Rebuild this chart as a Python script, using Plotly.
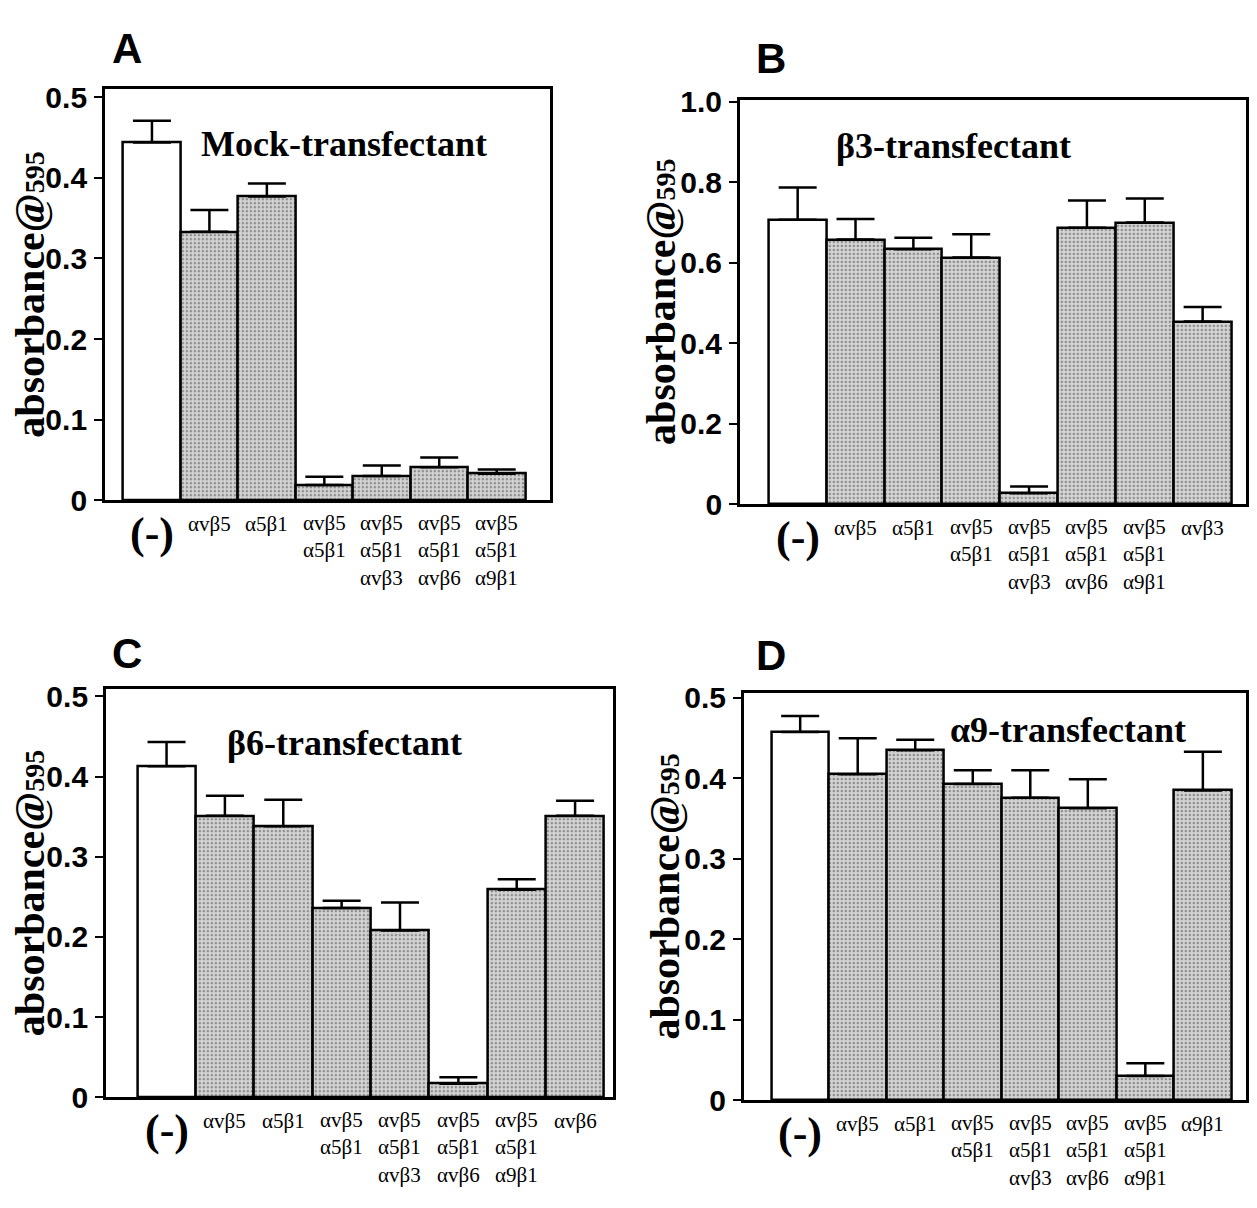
import plotly.graph_objects as go

PAGE_W, PAGE_H = 1257, 1208
OFF = 8                      # default body margin of the html page
FW, FH = PAGE_W - 2 * OFF, PAGE_H - 2 * OFF   # figure fits exactly inside the window

# ---------------- data ----------------
cats_A = ["(-)", "αvβ5", "α5β1", "αvβ5<br>α5β1", "αvβ5<br>α5β1<br>αvβ3",
          "αvβ5<br>α5β1<br>αvβ6", "αvβ5<br>α5β1<br>α9β1"]
vals_A = [0.444, 0.333, 0.377, 0.019, 0.030, 0.041, 0.033]
errs_A = [0.027, 0.027, 0.016, 0.010, 0.013, 0.012, 0.005]

cats_B = ["(-)", "αvβ5", "α5β1", "αvβ5<br>α5β1", "αvβ5<br>α5β1<br>αvβ3",
          "αvβ5<br>α5β1<br>αvβ6", "αvβ5<br>α5β1<br>α9β1", "αvβ3"]
vals_B = [0.707, 0.658, 0.634, 0.613, 0.027, 0.687, 0.700, 0.454]
errs_B = [0.080, 0.051, 0.028, 0.058, 0.017, 0.068, 0.060, 0.036]

cats_C = ["(-)", "αvβ5", "α5β1", "αvβ5<br>α5β1", "αvβ5<br>α5β1<br>αvβ3",
          "αvβ5<br>α5β1<br>αvβ6", "αvβ5<br>α5β1<br>α9β1", "αvβ6"]
vals_C = [0.413, 0.351, 0.338, 0.236, 0.208, 0.017, 0.259, 0.351]
errs_C = [0.030, 0.025, 0.033, 0.009, 0.035, 0.008, 0.013, 0.019]

cats_D = ["(-)", "αvβ5", "α5β1", "αvβ5<br>α5β1", "αvβ5<br>α5β1<br>αvβ3",
          "αvβ5<br>α5β1<br>αvβ6", "αvβ5<br>α5β1<br>α9β1", "α9β1"]
vals_D = [0.4575, 0.405, 0.435, 0.393, 0.376, 0.363, 0.030, 0.385]
errs_D = [0.020, 0.045, 0.013, 0.017, 0.034, 0.036, 0.016, 0.048]

ticks_small = [0, 0.1, 0.2, 0.3, 0.4, 0.5]
ticktext_small = ["0", "0.1", "0.2", "0.3", "0.4", "0.5"]
ticks_big = [0, 0.2, 0.4, 0.6, 0.8, 1.0]
ticktext_big = ["0", "0.2", "0.4", "0.6", "0.8", "1.0"]

panel_letters = ["A", "B", "C", "D"]
panel_titles = ["Mock-transfectant", "β3-transfectant", "β6-transfectant", "α9-transfectant"]
ytitle = "absorbance@<span style='font-size:28px'>595</span>"

# ---------------- layout geometry (page pixels) ----------------
frames = [  # x0, x1, ytop, ybottom
    (105, 551, 77, 499),
    (741, 1248, 88, 503),
    (106, 614, 693, 1112),
    (745, 1248, 697, 1115),
]
xranges = [[-0.82, 6.93], [-1.0, 7.75], [-1.04, 7.65], [-0.98, 7.75]]
yranges = [[0, 0.51], [0, 1.005], [0, 0.509], [0, 0.506]]
letter_pos = [(127, 35), (772, 45), (127, 656), (772, 658)]
title_pos = [(345, 133), (955, 135), (345, 748), (1070, 735)]
ytitle_x = [30, 662, 30, 666]
first_row_dy = 24       # first label row below frame bottom
cat_size = 21
line_h = 1.3 * cat_size
paren_dy = 34

def px(x):
    return (x - OFF) / FW

def py(y):
    return 1 - (y - OFF) / FH

datasets = [(cats_A, vals_A, errs_A), (cats_B, vals_B, errs_B),
            (cats_C, vals_C, errs_C), (cats_D, vals_D, errs_D)]

tick_font = dict(family="Liberation Sans, Arial, sans-serif",
                 size=30, color="black", weight="bold")
cat_font = dict(family="Liberation Serif, Times New Roman, serif", size=cat_size, color="black")

fig = go.Figure()
annotations = []
for i, (cats, vals, errs) in enumerate(datasets):
    n = len(vals)
    ax = "" if i == 0 else str(i + 1)
    colors = ["white"] + ["#d4d4d4"] * (n - 1)
    shapes = [""] + ["."] * (n - 1)
    fig.add_trace(go.Bar(
        x=list(range(n)), y=vals,
        xaxis="x" + ax, yaxis="y" + ax,
        marker=dict(color=colors,
                    line=dict(color="black", width=2.5),
                    pattern=dict(shape=shapes, fillmode="overlay",
                                 fgcolor="#8c8c8c", size=4, solidity=0.3)),
        width=1.0,
        error_y=dict(type="data", symmetric=False, array=errs,
                     arrayminus=[0] * n, color="black", thickness=2.5, width=19),
        showlegend=False,
    ))
    x0, x1, yt, yb = frames[i]
    big = (i == 1)
    fig.update_layout(**{
        "xaxis" + ax: dict(domain=[px(x0), px(x1)], range=xranges[i],
                           anchor="y" + ax, showline=True, linecolor="black",
                           linewidth=2.5, mirror=True, ticks="",
                           showticklabels=False, showgrid=False, zeroline=False,
                           fixedrange=True),
        "yaxis" + ax: dict(domain=[py(yb), py(yt)], range=yranges[i],
                           anchor="x" + ax, showline=True, linecolor="black",
                           linewidth=2.5, mirror=True, ticks="outside", ticklen=8,
                           tickwidth=2, tickcolor="black", ticklabelstandoff=1,
                           tickmode="array",
                           tickvals=ticks_big if big else ticks_small,
                           ticktext=ticktext_big if big else ticktext_small,
                           tickfont=tick_font, showgrid=False, zeroline=False,
                           fixedrange=True),
    })
    # category labels placed on the x axis scale
    for k, c in enumerate(cats):
        if c == "(-)":
            annotations.append(dict(x=k, xref="x" + ax, y=py(yb + paren_dy), yref="paper",
                                    text="<b>(-)</b>", showarrow=False,
                                    font=dict(family="Liberation Serif, serif", size=44,
                                              color="black"),
                                    xanchor="center", yanchor="middle"))
            continue
        nl = c.count("<br>") + 1
        yc = yb + first_row_dy + (nl - 1) * line_h / 2
        annotations.append(dict(x=k, xref="x" + ax, y=py(yc), yref="paper",
                                text=c, showarrow=False, font=cat_font,
                                xanchor="center", yanchor="middle"))
    lx, ly = letter_pos[i]
    annotations.append(dict(x=px(lx), y=py(ly), xref="paper", yref="paper",
                            text="<b>%s</b>" % panel_letters[i], showarrow=False,
                            font=dict(family="Liberation Sans, Arial, sans-serif",
                                      size=42, color="black"),
                            xanchor="center", yanchor="middle"))
    tx, ty = title_pos[i]
    annotations.append(dict(x=px(tx), y=py(ty), xref="paper", yref="paper",
                            text="<b>%s</b>" % panel_titles[i], showarrow=False,
                            font=dict(family="Liberation Serif, Times New Roman, serif",
                                      size=36, color="black"),
                            xanchor="center", yanchor="middle"))
    annotations.append(dict(x=px(ytitle_x[i]), y=py((yt + yb) / 2), xref="paper", yref="paper",
                            text="<b>%s</b>" % ytitle, showarrow=False, textangle=-90,
                            font=dict(family="Liberation Serif, Times New Roman, serif",
                                      size=42, color="black"),
                            xanchor="center", yanchor="middle"))

fig.update_layout(width=FW, height=FH, margin=dict(l=0, r=0, t=0, b=0),
                  paper_bgcolor="white", plot_bgcolor="white",
                  bargap=0, annotations=annotations)

fig.write_html("out.html")
